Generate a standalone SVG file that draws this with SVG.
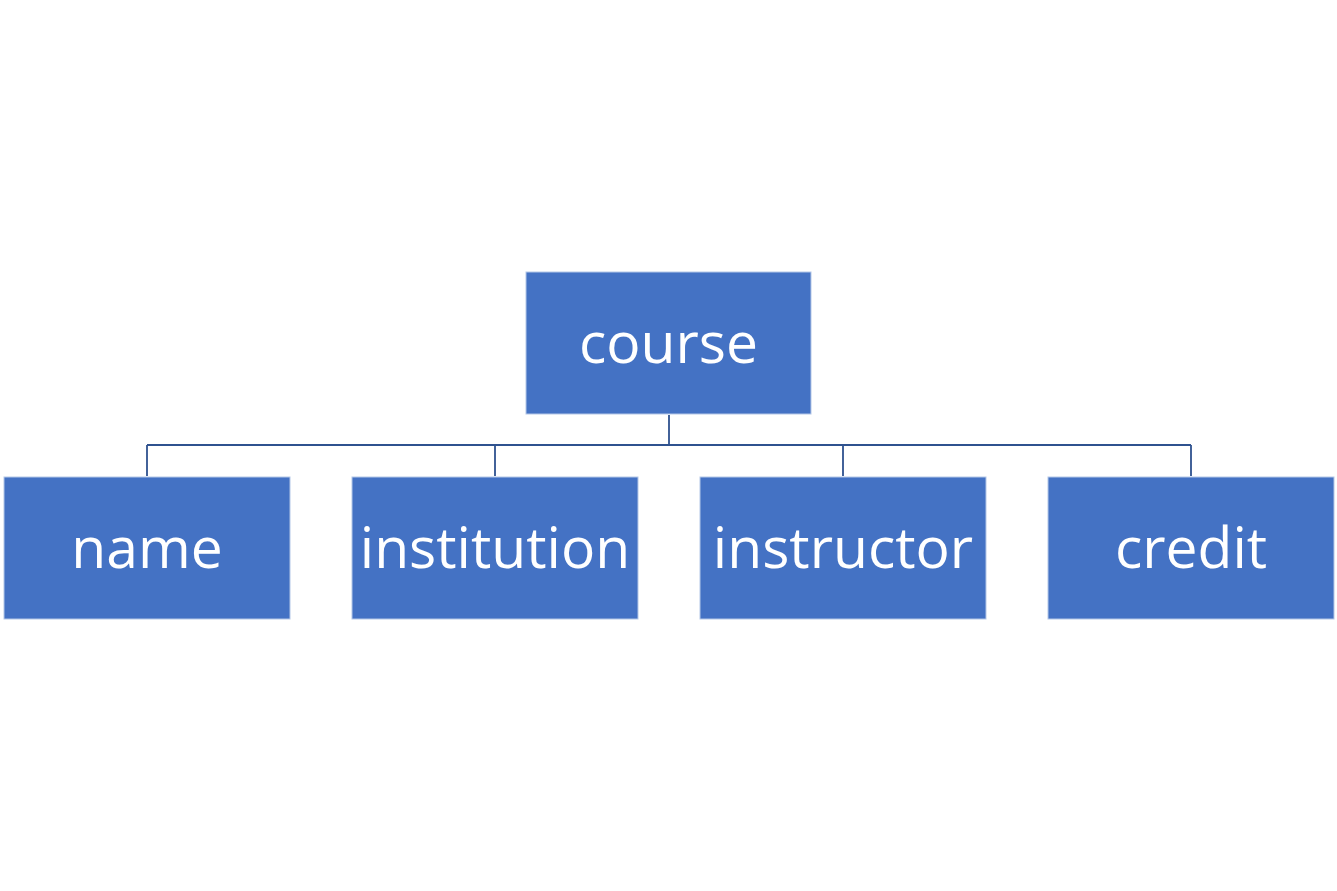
<svg xmlns="http://www.w3.org/2000/svg" width="1337" height="891" viewBox="0 0 1337 891">
<style>
.box{fill:#4472C4;stroke:#B4C7E7;stroke-width:1}
.lbl{font-family:"Open Sans","Noto Sans",sans-serif;font-size:57px;fill:#FFFFFF;text-anchor:middle}
.conn{fill:none;stroke:#2F528F;stroke-width:1.8}
</style>
<rect width="1337" height="891" fill="#FFFFFF"/>
<g id="connectors">
<path class="conn" d="M669,415 V445 M147,445 H1191 M147,445 V476 M495,445 V476 M843,445 V476 M1191,445 V476"/>
</g>
<g id="course"><rect class="box" x="526" y="272" width="285" height="142"/><text class="lbl" x="668.5" y="363">course</text></g>
<g id="name"><rect class="box" x="4" y="477" width="286" height="142"/><text class="lbl" x="147" y="568">name</text></g>
<g id="institution"><rect class="box" x="352" y="477" width="286" height="142"/><text class="lbl" x="495" y="568">institution</text></g>
<g id="instructor"><rect class="box" x="700" y="477" width="286" height="142"/><text class="lbl" x="843" y="568">instructor</text></g>
<g id="credit"><rect class="box" x="1048" y="477" width="286" height="142"/><text class="lbl" x="1191" y="568">credit</text></g>
</svg>
